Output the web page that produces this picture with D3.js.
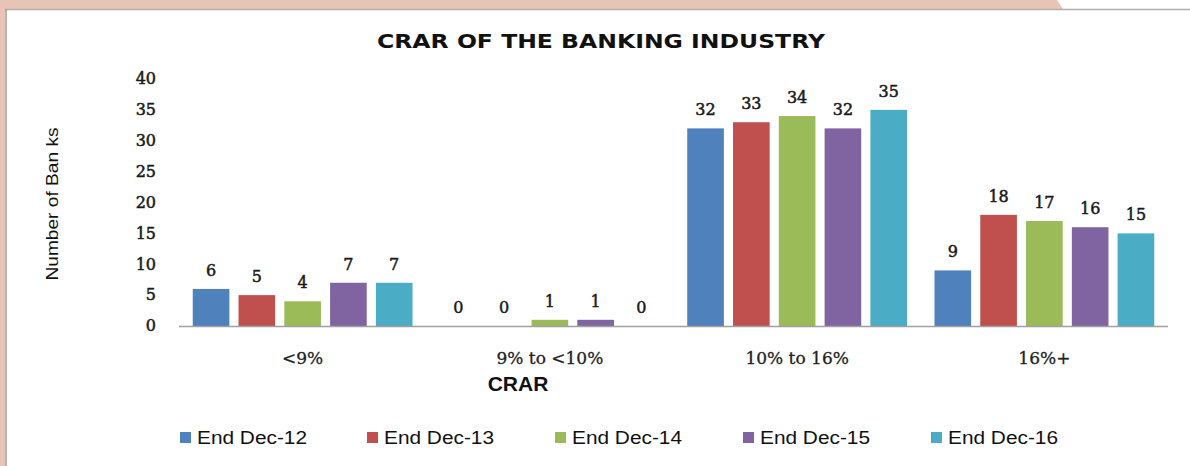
<!DOCTYPE html>
<html><head><meta charset="utf-8">
<script src="https://cdn.jsdelivr.net/npm/d3@7"></script>
<style>body{margin:0;background:#fff;}svg{display:block;}</style>
</head><body>
<svg id="chart" width="1190" height="466"></svg>
<script>
const categories = ["<9%", "9% to <10%", "10% to 16%", "16%+"];
const seriesNames = ["End Dec-12", "End Dec-13", "End Dec-14", "End Dec-15", "End Dec-16"];
const dec12 = [6, 0, 32, 9];
const dec13 = [5, 0, 33, 18];
const dec14 = [4, 1, 34, 17];
const dec15 = [7, 1, 32, 16];
const dec16 = [7, 0, 35, 15];
const yTicks = [0, 5, 10, 15, 20, 25, 30, 35, 40];
const colors = ["#4F81BD", "#C0504D", "#9BBB59", "#8064A2", "#4BACC6"];
const seriesValues = [dec12, dec13, dec14, dec15, dec16];

const svg = d3.select("#chart");

// frame
svg.append("rect").attr("x",0).attr("y",0).attr("width",1190).attr("height",466).attr("fill","#fff");
svg.append("path").attr("d","M0,0 H1057 L1063,9 H0 Z").attr("fill","#e8c4b7");
svg.append("rect").attr("x",0).attr("y",0).attr("width",5).attr("height",466).attr("fill","#e8c4b7");
svg.append("line").attr("x1",5).attr("x2",1190).attr("y1",9.5).attr("y2",9.5).attr("stroke","#b0b0b0").attr("stroke-width",1.5);
svg.append("line").attr("x1",6).attr("x2",6).attr("y1",9).attr("y2",466).attr("stroke","#a89890").attr("stroke-width",1.5);

const x0 = d3.scaleBand().domain(categories).range([179, 1168]).padding(0);
const x1 = d3.scaleBand().domain(seriesNames).range([0, x0.bandwidth()]).paddingInner(0.2).paddingOuter(0.3);
const y = d3.scaleLinear().domain([0, 40]).range([326, 79]);

const serifFont = "'DejaVu Serif', serif";

// title
svg.append("text").attr("x", 601).attr("y", 48).attr("text-anchor","middle")
  .attr("font-family","'DejaVu Sans', sans-serif").attr("font-weight","bold").attr("font-size",20)
  .attr("textLength",448).attr("lengthAdjust","spacingAndGlyphs")
  .attr("fill","#111").text("CRAR OF THE BANKING INDUSTRY");

// y axis ticks (no line)
const yAxis = d3.axisLeft(y).tickValues(yTicks).tickSize(0).tickPadding(0);
const gy = svg.append("g").attr("transform","translate(156,0)").call(yAxis);
gy.select(".domain").remove();
gy.selectAll("text").attr("font-family",serifFont).attr("font-size",16).attr("fill","#1a1a1a")
  .attr("stroke","#1a1a1a").attr("stroke-width",0.5).attr("dy","0.3em");

// y title
svg.append("text").attr("transform","translate(58,204) rotate(-90)").attr("text-anchor","middle")
  .attr("font-family","'Liberation Sans', Arial, sans-serif").attr("font-size",17)
  .attr("textLength",153).attr("lengthAdjust","spacingAndGlyphs")
  .attr("fill","#111").text("Number of Ban ks");

// bars
const groups = svg.append("g").selectAll("g").data(categories).join("g")
  .attr("transform", d => `translate(${x0(d)},0)`);
groups.selectAll("rect").data((c, ci) => seriesNames.map((s, si) => ({s, si, v: seriesValues[si][ci]})))
  .join("rect")
  .attr("x", d => x1(d.s)).attr("width", x1.bandwidth())
  .attr("y", d => y(d.v)).attr("height", d => y(0) - y(d.v))
  .attr("fill", d => colors[d.si]);
groups.selectAll("text").data((c, ci) => seriesNames.map((s, si) => ({s, si, v: seriesValues[si][ci]})))
  .join("text")
  .attr("x", d => x1(d.s) + x1.bandwidth()/2).attr("y", d => y(d.v) - 13)
  .attr("text-anchor","middle").attr("font-family",serifFont).attr("font-size",16)
  .attr("fill","#1a1a1a").attr("stroke","#1a1a1a").attr("stroke-width",0.5).text(d => d.v);

// x axis
const xAxis = d3.axisBottom(x0).tickSize(0).tickPadding(0);
const gx = svg.append("g").attr("transform","translate(0,326)").call(xAxis);
gx.select(".domain").attr("stroke","#a0a0a0").attr("stroke-width",1.5).attr("d","M179,0.5H1168");
gx.selectAll("text").attr("font-family",serifFont).attr("font-size",17).attr("fill","#222")
  .attr("stroke","#222").attr("stroke-width",0.3)
  .attr("dy",null).attr("y",38);

// x title
svg.append("text").attr("x",518).attr("y",391).attr("text-anchor","middle")
  .attr("font-family","'Liberation Sans', Arial, sans-serif").attr("font-weight","bold").attr("font-size",21)
  .attr("fill","#111").text("CRAR");

// legend
const legendX = [180, 367, 555, 743, 931];
const lg = svg.append("g").selectAll("g").data(seriesNames).join("g")
  .attr("transform", (d,i) => `translate(${legendX[i]},432)`);
lg.append("rect").attr("x",0).attr("y",0).attr("width",11).attr("height",11).attr("fill",(d,i)=>colors[i]);
lg.append("text").attr("x",17).attr("y",12).attr("font-family","'Liberation Sans Narrow', 'Liberation Sans', Arial, sans-serif")
  .attr("font-size",18).attr("textLength",110).attr("lengthAdjust","spacingAndGlyphs")
  .attr("fill","#111").text(d => d);
</script>
</body></html>
